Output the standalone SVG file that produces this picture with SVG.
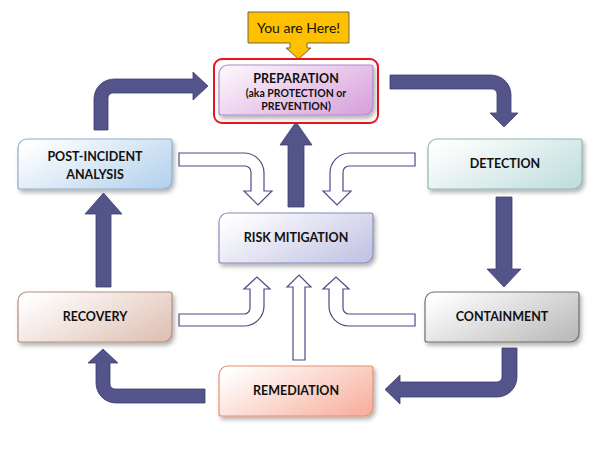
<svg xmlns="http://www.w3.org/2000/svg" width="600" height="453" viewBox="0 0 600 453">
<style>
.lbl{font-family:Lato,"Open Sans","Liberation Sans",sans-serif;font-weight:700;font-size:12.5px;fill:#111;text-anchor:middle}
.sub{font-size:10.5px}
.dark{fill:#52548A;stroke:#3E3F72;stroke-width:0.8}
.out{fill:#fff;stroke:#4B4C86;stroke-width:1.2}
.box{stroke-width:1.2}
</style>
<defs>
<filter id="sh" x="-10%" y="-10%" width="130%" height="140%">
<feDropShadow dx="2" dy="3" stdDeviation="2" flood-color="#000" flood-opacity="0.3"/>
</filter>
<linearGradient id="gPrep" x1="0" y1="0.2" x2="1" y2="0.8"><stop offset="0" stop-color="#FBF3FB"/><stop offset="1" stop-color="#D9A4DD"/></linearGradient>
<linearGradient id="gPost" x1="0" y1="0.2" x2="1" y2="0.8"><stop offset="0" stop-color="#FFFFFF"/><stop offset="1" stop-color="#B6D3EE"/></linearGradient>
<linearGradient id="gDet" x1="0" y1="0.2" x2="1" y2="0.8"><stop offset="0" stop-color="#FFFFFF"/><stop offset="1" stop-color="#C2DFDD"/></linearGradient>
<linearGradient id="gRisk" x1="0" y1="0.2" x2="1" y2="0.8"><stop offset="0" stop-color="#FFFFFF"/><stop offset="1" stop-color="#C4C4E4"/></linearGradient>
<linearGradient id="gRec" x1="0" y1="0.2" x2="1" y2="0.8"><stop offset="0" stop-color="#FFFFFF"/><stop offset="1" stop-color="#E0C2B6"/></linearGradient>
<linearGradient id="gCon" x1="0" y1="0.2" x2="1" y2="0.8"><stop offset="0" stop-color="#FFFFFF"/><stop offset="1" stop-color="#BCBCBC"/></linearGradient>
<linearGradient id="gRem" x1="0" y1="0.2" x2="1" y2="0.8"><stop offset="0" stop-color="#FFFFFF"/><stop offset="1" stop-color="#F8B2A0"/></linearGradient>
</defs>
<rect width="600" height="453" fill="#fff"/>

<g id="connectors">
<path class="dark" d="M94,130 V99 A20,20 0 0 1 114,79 H193 V72 L208,86 L193,100 V93 H113 A5,5 0 0 0 108,98 V130 Z"/>
<path class="dark" d="M390,75 H491 A20,20 0 0 1 511,95 V113 H518 L504,127 L490,113 H497 V94 A5,5 0 0 0 492,89 H390 Z"/>
<path class="dark" d="M496,197 H512 V269 H521 L504,287 L487,269 H496 Z"/>
<path class="dark" d="M502,348 H517 V377 A20,20 0 0 1 497,397 H400 V404 L385,389.5 L400,375 V382 H497 A5,5 0 0 0 502,377 Z"/>
<path class="dark" d="M205,389 V403 H116 A20,20 0 0 1 96,383 V363 H88 L103,349 L118,363 H110 V384 A5,5 0 0 0 115,389 Z"/>
<path class="dark" d="M96,287 V214 H85 L103.5,193 L122,214 H111 V287 Z"/>
<path class="dark" d="M288,207 V145 H280 L296,122 L312,145 H304 V207 Z"/>
<path class="out" d="M179,153 H244 A20,20 0 0 1 264,173 V191 H272 L258,205 L244,191 H251 V172 A6,6 0 0 0 245,166 H179 Z"/>
<path class="out" d="M415,153 H350 A20,20 0 0 0 330,173 V191 H323 L337,205 L351,191 H343 V172 A6,6 0 0 1 349,166 H415 Z"/>
<path class="out" d="M179,314 H244 A6,6 0 0 0 250,308 V289 H244 L257,277 L270,289 H264 V306 A20,20 0 0 1 244,326 H179 Z"/>
<path class="out" d="M293,360 V287 H287 L299,275 L311,287 H305 V360 Z"/>
<path class="out" d="M415,314 H349 A6,6 0 0 1 343,308 V289 H349 L336,277 L323,289 H329 V306 A20,20 0 0 0 349,326 H415 Z"/>
</g>

<g id="callout">
<path d="M248,12 H349 V43 H307 V48 H311 L298.5,59 L286,48 H290 V43 H248 Z" fill="#FFC000" stroke="#4A4A4A" stroke-width="0.8"/>
<text x="298.5" y="33" style="font-family:Lato,'Open Sans','Liberation Sans',sans-serif;font-size:14px;fill:#111;text-anchor:middle">You are Here!</text>
</g>

<g id="preparation">
<rect x="214" y="59" width="164" height="64" rx="8" fill="none" stroke="#E8141C" stroke-width="2"/>
<path class="box" filter="url(#sh)" fill="url(#gPrep)" stroke="#B08CC6" d="M228,65 H371 Q373,65 373,67 V106 A9,9 0 0 1 364,115 H221 Q219,115 219,113 V74 A9,9 0 0 1 228,65 Z"/>
<text class="lbl" x="296" y="83">PREPARATION</text>
<text class="lbl sub" x="296" y="97">(aka PROTECTION or</text>
<text class="lbl sub" x="296" y="110">PREVENTION)</text>
</g>

<g id="post-incident">
<path class="box" filter="url(#sh)" fill="url(#gPost)" stroke="#8CAFCC" d="M27,139 H170 Q172,139 172,141 V180 A9,9 0 0 1 163,189 H20 Q18,189 18,187 V148 A9,9 0 0 1 27,139 Z"/>
<text class="lbl" x="95" y="161">POST-INCIDENT</text>
<text class="lbl" x="95" y="179">ANALYSIS</text>
</g>

<g id="detection">
<path class="box" filter="url(#sh)" fill="url(#gDet)" stroke="#8AB8B6" d="M437,139 H580 Q582,139 582,141 V180 A9,9 0 0 1 573,189 H430 Q428,189 428,187 V148 A9,9 0 0 1 437,139 Z"/>
<text class="lbl" x="505" y="168">DETECTION</text>
</g>

<g id="risk-mitigation">
<path class="box" filter="url(#sh)" fill="url(#gRisk)" stroke="#8A8ABE" d="M228,213 H371 Q373,213 373,215 V254 A9,9 0 0 1 364,263 H221 Q219,263 219,261 V222 A9,9 0 0 1 228,213 Z"/>
<text class="lbl" x="296" y="242">RISK MITIGATION</text>
</g>

<g id="recovery">
<path class="box" filter="url(#sh)" fill="url(#gRec)" stroke="#B48E7A" d="M27,292 H170 Q172,292 172,294 V333 A9,9 0 0 1 163,342 H20 Q18,342 18,340 V301 A9,9 0 0 1 27,292 Z"/>
<text class="lbl" x="95" y="321">RECOVERY</text>
</g>

<g id="containment">
<path class="box" filter="url(#sh)" fill="url(#gCon)" stroke="#6E6E6E" d="M434,292 H577 Q579,292 579,294 V333 A9,9 0 0 1 570,342 H427 Q425,342 425,340 V301 A9,9 0 0 1 434,292 Z"/>
<text class="lbl" x="502" y="321">CONTAINMENT</text>
</g>

<g id="remediation">
<path class="box" filter="url(#sh)" fill="url(#gRem)" stroke="#E8906E" d="M228,366 H371 Q373,366 373,368 V407 A9,9 0 0 1 364,416 H221 Q219,416 219,414 V375 A9,9 0 0 1 228,366 Z"/>
<text class="lbl" x="296" y="395">REMEDIATION</text>
</g>
</svg>
